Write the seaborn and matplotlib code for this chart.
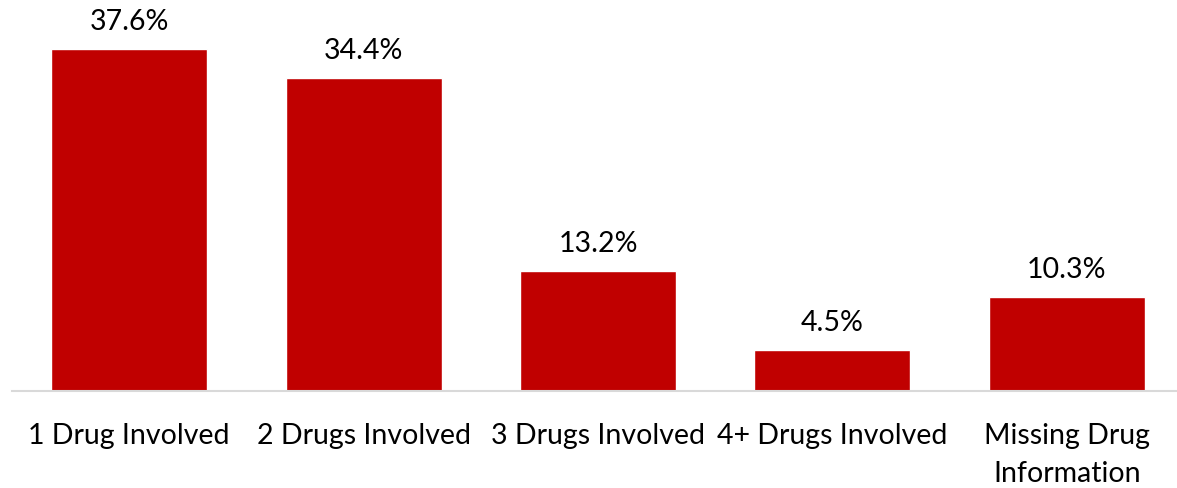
import matplotlib
matplotlib.use('Agg')
import matplotlib.pyplot as plt
import seaborn as sns
import pandas as pd

categories = ['1 Drug Involved', '2 Drugs Involved', '3 Drugs Involved',
              '4+ Drugs Involved', 'Missing Drug\nInformation']
percent = [37.6, 34.4, 13.2, 4.5, 10.3]

df = pd.DataFrame({'category': categories, 'percent': percent})

sns.set_style('white')
plt.rcParams['font.family'] = ['Lato', 'DejaVu Sans']

fig = plt.figure(figsize=(11.77, 4.89), dpi=100)
ax = fig.add_axes([12 / 1177, 97 / 489, 1172 / 1177, 392 / 489])

sns.barplot(data=df, x='category', y='percent', color='#C00000',
            saturation=1, width=0.665, ax=ax)

ax.set_xlim(-0.5, 4.5)
ax.set_ylim(0, 43.1)
ax.set_xlabel('')
ax.set_ylabel('')
ax.set_yticks([])
ax.tick_params(axis='x', length=0, pad=22, labelsize=20.5, colors='black')
for lbl in ax.get_xticklabels():
    lbl.set_linespacing(1.6)
for s in ['top', 'left', 'right']:
    ax.spines[s].set_visible(False)
ax.spines['bottom'].set_color('#d9d9d9')
ax.spines['bottom'].set_linewidth(1.5)

for i, v in enumerate(percent):
    ax.annotate(f'{v}%', (i, v), xytext=(0, 11), textcoords='offset points',
                ha='center', va='bottom', fontsize=20.5, color='black')

fig.savefig('out.png', dpi=100)
